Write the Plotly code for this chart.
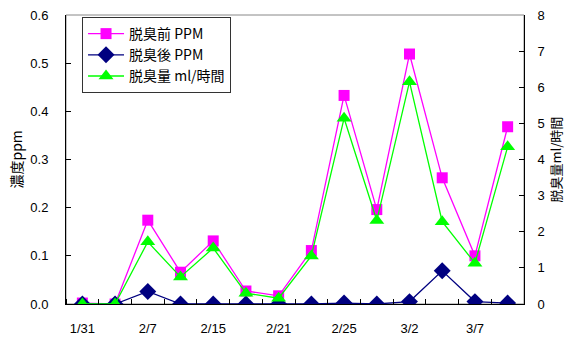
import plotly.graph_objects as go

x_index = list(range(14))
tick_positions = [0, 2, 4, 6, 8, 10, 12]
tick_labels = ["1/31", "2/7", "2/15", "2/21", "2/25", "3/2", "3/7"]

before_ppm = [0.002, 0.0, 0.174, 0.066, 0.131, 0.027, 0.017, 0.111, 0.433, 0.196, 0.519, 0.262, 0.100, 0.368]
after_ppm = [0.0, 0.0, 0.026, 0.0, 0.0, 0.0, 0.0, 0.0, 0.002, 0.0, 0.005, 0.069, 0.005, 0.002]
amount_ml = [0.0, 0.0, 1.72, 0.75, 1.55, 0.30, 0.16, 1.33, 5.14, 2.31, 6.15, 2.28, 1.13, 4.35]

JP = "Noto Sans CJK JP"
LAT = "Liberation Sans"

fig = go.Figure()
fig.add_trace(go.Scatter(
    x=x_index, y=before_ppm, name="脱臭前 PPM", mode="lines+markers",
    line=dict(color="#FF00FF", width=1.3),
    marker=dict(symbol="square", size=11, color="#FF00FF")))
fig.add_trace(go.Scatter(
    x=x_index, y=after_ppm, name="脱臭後 PPM", mode="lines+markers",
    line=dict(color="#000080", width=1.3),
    marker=dict(symbol="diamond", size=13, color="#000080")))
fig.add_trace(go.Scatter(
    x=x_index, y=amount_ml, name="脱臭量 ml/時間", mode="lines+markers", yaxis="y2",
    line=dict(color="#00FF00", width=1.3),
    marker=dict(symbol="triangle-up", size=13, color="#00FF00")))

fig.update_layout(
    width=565, height=338,
    margin=dict(l=66, r=41, t=15, b=34, autoexpand=False),
    paper_bgcolor="white", plot_bgcolor="white",
    font=dict(family=LAT, size=12, color="black"),
    showlegend=True,
    legend=dict(
        x=0.035, y=0.993, xanchor="left", yanchor="top",
        bgcolor="white", bordercolor="#333333", borderwidth=1,
        font=dict(family=JP, size=14, color="black"),
        tracegroupgap=0, itemwidth=36),
    xaxis=dict(
        range=[-0.5, 13.5], tickmode="array", tickvals=tick_positions, ticktext=tick_labels,
        ticks="", showgrid=False, zeroline=False, automargin=False,
        showline=True, linecolor="black", linewidth=1,
        tickfont=dict(family=LAT, size=13), ticklabelstandoff=12,
        minor=dict(tick0=-0.5, dtick=1, ticks="inside", ticklen=5, tickcolor="black", showgrid=False)),
    yaxis=dict(
        range=[0, 0.6], tickvals=[0, 0.1, 0.2, 0.3, 0.4, 0.5, 0.6],
        ticktext=["0.0", "0.1", "0.2", "0.3", "0.4", "0.5", "0.6"],
        ticks="inside", ticklen=5, tickcolor="black", automargin=False,
        showgrid=False, zeroline=False,
        showline=True, linecolor="black", linewidth=1,
        tickfont=dict(family=LAT, size=13), ticklabelstandoff=14),
    yaxis2=dict(
        range=[0, 8], tickvals=list(range(9)),
        overlaying="y", side="right", automargin=False,
        ticks="inside", ticklen=5, tickcolor="black",
        showgrid=False, zeroline=False,
        showline=True, linecolor="black", linewidth=1,
        tickfont=dict(family=LAT, size=13), ticklabelstandoff=10),
    annotations=[
        dict(text="濃度ppm", xref="paper", yref="paper", x=-51 / 458, y=0.5,
             xanchor="center", yanchor="middle", textangle=-90, showarrow=False,
             font=dict(family=JP, size=14, color="black")),
        dict(text="脱臭量ml/時間", xref="paper", yref="paper", x=1 + 31 / 458, y=0.5,
             xanchor="center", yanchor="middle", textangle=-90, showarrow=False,
             font=dict(family=JP, size=13, color="black")),
    ],
    shapes=[dict(type="rect", xref="paper", yref="paper", x0=0, x1=1, y0=0, y1=1,
                 line=dict(color="#888888", width=1), layer="below")],
)

fig.write_html("out.html", config={"displayModeBar": False},
               post_script="document.body.style.margin='0';")
